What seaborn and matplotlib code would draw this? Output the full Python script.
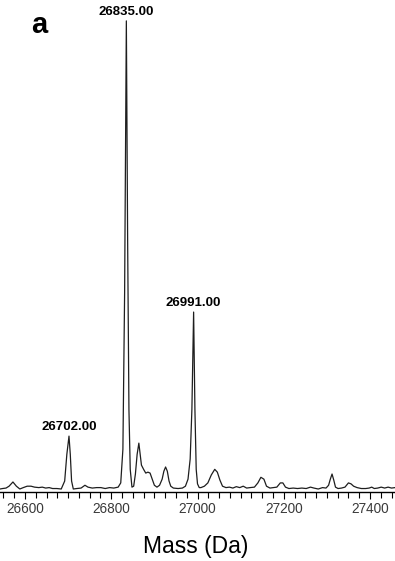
import numpy as np
import pandas as pd
import seaborn as sns
import matplotlib.pyplot as plt
from matplotlib.ticker import MultipleLocator

# deconvoluted mass spectrum (relative intensity, %)
mass = [26542, 26548, 26556, 26563, 26572, 26580, 26588, 26596, 26605, 26614,
        26622, 26632, 26640, 26648, 26656, 26664, 26674, 26684, 26692, 26697,
        26702, 26705, 26708, 26712, 26720, 26730, 26739, 26746, 26756, 26766,
        26776, 26786, 26796, 26806, 26816, 26822, 26827, 26831, 26835, 26838,
        26841, 26844, 26848, 26852, 26856, 26860, 26864, 26867, 26870, 26875,
        26880, 26885, 26890, 26895, 26900, 26906, 26912, 26918, 26922, 26926,
        26930, 26934, 26938, 26944, 26955, 26965, 26972, 26978, 26983, 26987,
        26991, 26994, 26997, 27000, 27004, 27008, 27016, 27024, 27032, 27040,
        27046, 27052, 27058, 27066, 27074, 27082, 27090, 27098, 27106, 27114,
        27122, 27132, 27140, 27147, 27154, 27160, 27168, 27176, 27184, 27192,
        27198, 27204, 27212, 27222, 27232, 27242, 27252, 27262, 27270, 27280,
        27290, 27298, 27304, 27308, 27312, 27316, 27320, 27326, 27334, 27342,
        27350, 27356, 27362, 27370, 27380, 27390, 27398, 27404, 27410, 27418,
        27426, 27434, 27442, 27450, 27458]
intensity = [0.0, 0.1, 0.2, 0.6, 1.5, 0.6, 0.0, 0.3, 0.6, 0.6,
             0.4, 0.3, 0.4, 0.2, 0.3, 0.1, 0.1, 0.0, 1.7, 7.4,
             11.3, 7.4, 1.7, 0.0, 0.1, 0.2, 0.8, 0.4, 0.2, 0.3,
             0.3, 0.1, 0.3, 0.2, 0.4, 1.3, 8.5, 42.0, 100.0, 53.0,
             17.0, 4.2, 0.4, 0.6, 3.2, 7.4, 9.8, 7.4, 5.1, 4.2,
             3.4, 3.6, 3.4, 2.1, 0.8, 0.4, 0.8, 2.1, 3.8, 4.7,
             3.8, 1.7, 0.6, 0.2, 0.1, 0.2, 0.6, 2.1, 6.4, 17.0,
             37.8, 17.0, 4.2, 1.1, 0.3, 0.3, 0.6, 1.3, 3.0, 4.2,
             3.6, 1.9, 0.6, 0.3, 0.4, 0.2, 0.5, 0.3, 0.6, 0.2,
             0.3, 0.4, 1.3, 2.5, 2.1, 0.6, 0.2, 0.3, 0.4, 1.3,
             1.3, 0.4, 0.1, 0.2, 0.1, 0.2, 0.1, 0.4, 0.2, 0.0,
             0.3, 0.2, 0.8, 2.1, 3.2, 1.9, 0.4, 0.1, 0.2, 0.4,
             1.3, 1.1, 0.6, 0.3, 0.1, 0.1, 0.2, 0.4, 0.1, 0.2,
             0.4, 0.2, 0.4, 0.2, 0.3]

peak_mass = [26702, 26835, 26991]
peak_labels = ['26702.00', '26835.00', '26991.00']

df = pd.DataFrame({'mass': mass, 'intensity': intensity})

sns.set_style('white')
plt.rcParams['font.family'] = ['Liberation Sans', 'DejaVu Sans']
plt.rcParams['text.color'] = 'black'

fig = plt.figure(figsize=(3.95, 5.61), dpi=100)
ax = fig.add_axes([0.0, 0.123, 1.0, 0.877])

sns.lineplot(data=df, x='mass', y='intensity', ax=ax, color='#1e1e1e',
             linewidth=0.9, estimator=None)

# peak labels
for m, lab in zip(peak_mass, peak_labels):
    yv = df.loc[df['mass'] == m, 'intensity'].iloc[0]
    ax.annotate(lab, (m, yv), xytext=(0, 2), textcoords='offset points',
                ha='center', va='bottom', fontsize=9.5, fontweight='bold',
                color='black')

ax.set_xlim(26542, 27458)
ax.set_ylim(-0.64, 104.46)

for s in ['left', 'right', 'top']:
    ax.spines[s].set_visible(False)
ax.spines['bottom'].set_color('black')
ax.spines['bottom'].set_linewidth(1.0)

ax.xaxis.set_major_locator(MultipleLocator(200))
ax.xaxis.set_minor_locator(MultipleLocator(25))
ax.tick_params(axis='x', which='major', direction='out', length=5, width=0.8,
               color='black', labelsize=9.8, labelcolor='#3a3a3a', pad=2,
               bottom=True)
ax.tick_params(axis='x', which='minor', direction='out', length=4, width=0.8,
               color='black', bottom=True)
ax.set_yticks([])
ax.set_ylabel('')
ax.set_xlabel('')

fig.text(0.495, 0.025, 'Mass (Da)', ha='center', va='center', fontsize=16.5,
         color='black')
fig.text(0.08, 0.955, 'a', ha='left', va='center', fontsize=21,
         fontweight='bold', color='black')

fig.savefig('out.png', dpi=100)
